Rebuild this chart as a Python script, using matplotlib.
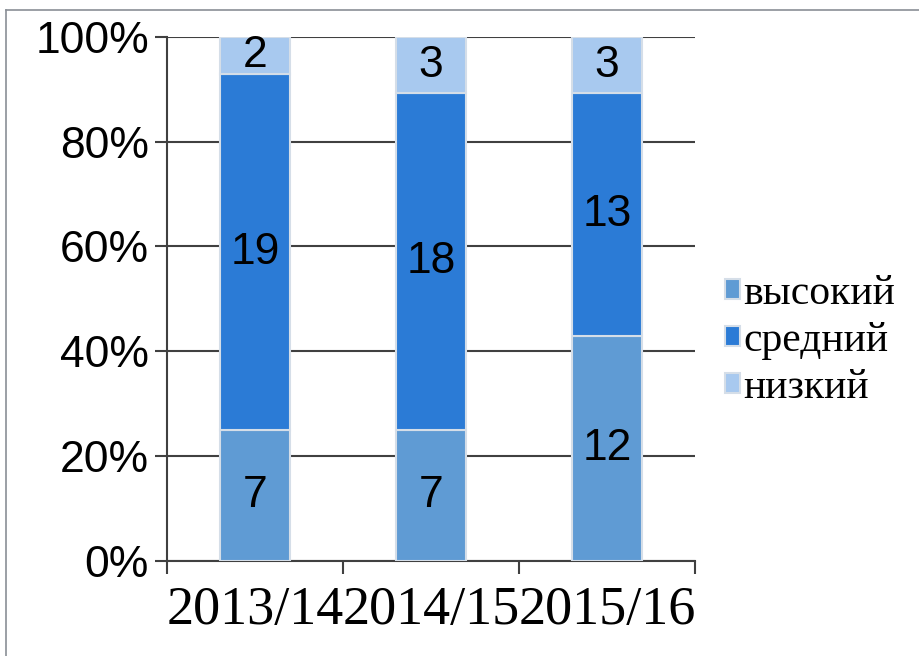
import numpy as np
import matplotlib.pyplot as plt
from matplotlib.lines import Line2D
from matplotlib.ticker import FuncFormatter

# данные по годам
years = ['2013/14', '2014/15', '2015/16']
high = [7, 7, 12]     # высокий
medium = [19, 18, 13] # средний
low = [2, 3, 3]       # низкий

labels = ['высокий', 'средний', 'низкий']
colors = ['#5F9BD4', '#2B7BD6', '#A8C9EF']

series = [np.array(high, float), np.array(medium, float), np.array(low, float)]
total = sum(series)
pct = [s / total * 100 for s in series]

fig = plt.figure(figsize=(9.2, 6.56), dpi=100)
ax = fig.add_axes([0.1815, 0.1455, 0.574, 0.798])

x = np.arange(len(years))
bottom = np.zeros(len(years))
for vals, p, lab, col in zip(series, pct, labels, colors):
    ax.bar(x, p, width=0.4, bottom=bottom, color=col, edgecolor='#D5DEE8',
           linewidth=1.5, label=lab, zorder=3)
    for xi, b, h, v in zip(x, bottom, p, vals):
        ax.text(xi, b + h / 2, f'{int(v)}', ha='center', va='center',
                fontsize=32, family='Liberation Sans', color='black', zorder=4)
    bottom += p

ax.set_xlim(-0.5, 2.5)
ax.set_ylim(0, 100)
ax.set_yticks(range(0, 101, 20))
ax.yaxis.set_major_formatter(FuncFormatter(lambda v, _: f'{int(v)}%'))
ax.grid(axis='y', color='#404040', linewidth=1.5, zorder=0)
ax.set_axisbelow(True)

ax.set_xticks(x)
ax.set_xticklabels(years, family='Liberation Serif', fontsize=39)
ax.set_xticks([-0.5, 0.5, 1.5, 2.5], minor=True)
ax.tick_params(axis='x', which='major', length=0, pad=18)
ax.tick_params(axis='x', which='minor', length=9, width=1.5, color='#404040', direction='out')
ax.tick_params(axis='y', length=9, width=1.5, color='#404040', pad=4, labelsize=32)
for t in ax.get_yticklabels():
    t.set_family('Liberation Sans')

for s in ['top', 'right']:
    ax.spines[s].set_visible(False)
for s in ['left', 'bottom']:
    ax.spines[s].set_color('#404040')
    ax.spines[s].set_linewidth(1.5)

leg = ax.legend(loc='center left', bbox_to_anchor=(1.025, 0.42), frameon=False,
                borderaxespad=0,
                prop={'family': 'Liberation Serif', 'size': 30},
                handlelength=0.35, handleheight=0.35, handletextpad=0.1,
                labelspacing=0.2)

# рамка слева и сверху
fig.add_artist(Line2D([0.006, 0.006], [0, 0.984], transform=fig.transFigure,
                      color='#8A8F96', linewidth=1.2))
fig.add_artist(Line2D([0.006, 1.0], [0.984, 0.984], transform=fig.transFigure,
                      color='#8A8F96', linewidth=1.2))

fig.savefig('out.png', dpi=100)
